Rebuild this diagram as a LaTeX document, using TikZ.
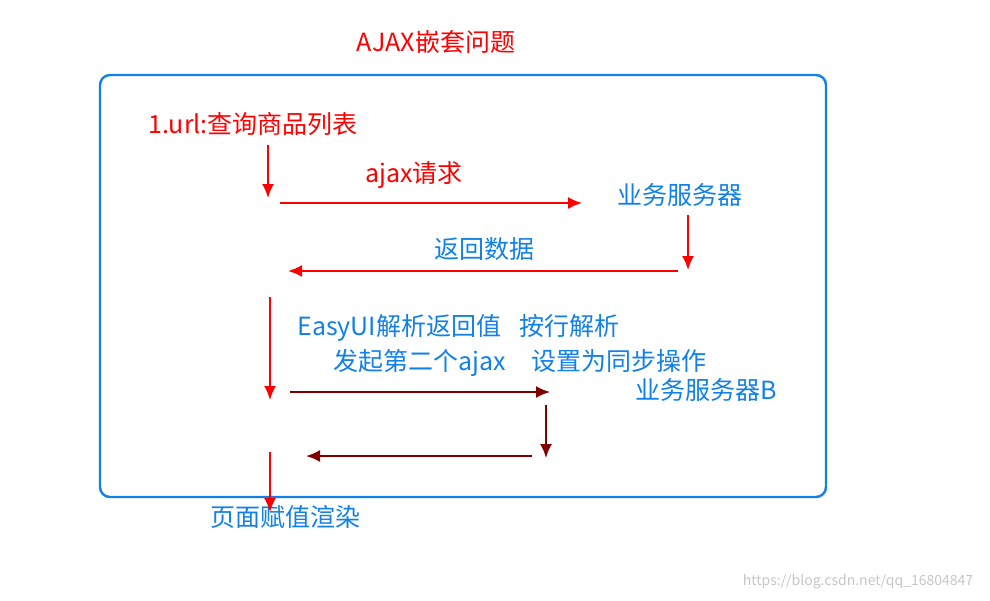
\documentclass[tikz,border=0pt]{standalone}
\usepackage{fontspec}
\setmainfont{Noto Sans CJK SC}
\usetikzlibrary{arrows.meta}
\definecolor{myred}{HTML}{FF0000}
\definecolor{myblue}{HTML}{1180E8}
\definecolor{mydark}{HTML}{800000}
\begin{document}
\begin{tikzpicture}[x=0.5pt,y=-0.5pt]
        \tikzstyle{every node}+=[inner sep=0pt, font=\fontsize{12.5}{14}\selectfont]
        \tikzstyle{redtxt}=[text=myred]
        \tikzstyle{bluetxt}=[text=myblue]
        \tikzstyle{redarr}=[myred, line width=1pt, -{Latex[length=7pt,width=6pt]}]
        \tikzstyle{darkarr}=[mydark, line width=1pt, -{Latex[length=7pt,width=6pt]}]
        \useasboundingbox (0,0) rectangle (990,600);
        \draw [myblue, line width=1.2pt, rounded corners=5pt] (100,75) rectangle (826,497);
        \node [redtxt] (title) at (436,42) {AJAX嵌套问题};
        \node [redtxt] (url) at (253,124) {1.url:查询商品列表};
        \node [redtxt] (req) at (414,175) {ajax请求};
        \node [bluetxt] (srv) at (680,195) {业务服务器};
        \node [bluetxt] (ret) at (484,249) {返回数据};
        \node [bluetxt, anchor=west] (parse) at (297,328) {EasyUI解析返回值\hspace{9pt}按行解析};
        \node [bluetxt, anchor=west] (second) at (333,363) {发起第二个ajax\hspace{13pt}设置为同步操作};
        \node [bluetxt] (srvb) at (706,390) {业务服务器B};
        \node [bluetxt] (render) at (285,517) {页面赋值渲染};
        \node [text=gray!45, font=\fontsize{7}{8}\selectfont] (mark) at (858,582) {https://blog.csdn.net/qq\_16804847};
        \coordinate (a1) at (268,145); \coordinate (a2) at (268,198);
        \coordinate (b1) at (280,203); \coordinate (b2) at (582,203);
        \coordinate (c1) at (688,215); \coordinate (c2) at (688,270);
        \coordinate (d1) at (678,271); \coordinate (d2) at (288,271);
        \coordinate (e1) at (270,297); \coordinate (e2) at (270,400);
        \coordinate (f1) at (290,392); \coordinate (f2) at (550,392);
        \coordinate (g1) at (546,405); \coordinate (g2) at (546,458);
        \coordinate (h1) at (532,456); \coordinate (h2) at (306,456);
        \coordinate (i1) at (270,452); \coordinate (i2) at (270,512);
        \draw [redarr] (a1) -- (a2);
        \draw [redarr] (b1) -- (b2);
        \draw [redarr] (c1) -- (c2);
        \draw [redarr] (d1) -- (d2);
        \draw [redarr] (e1) -- (e2);
        \draw [darkarr] (f1) -- (f2);
        \draw [darkarr] (g1) -- (g2);
        \draw [darkarr] (h1) -- (h2);
        \draw [redarr] (i1) -- (i2);
\end{tikzpicture}
\end{document}
